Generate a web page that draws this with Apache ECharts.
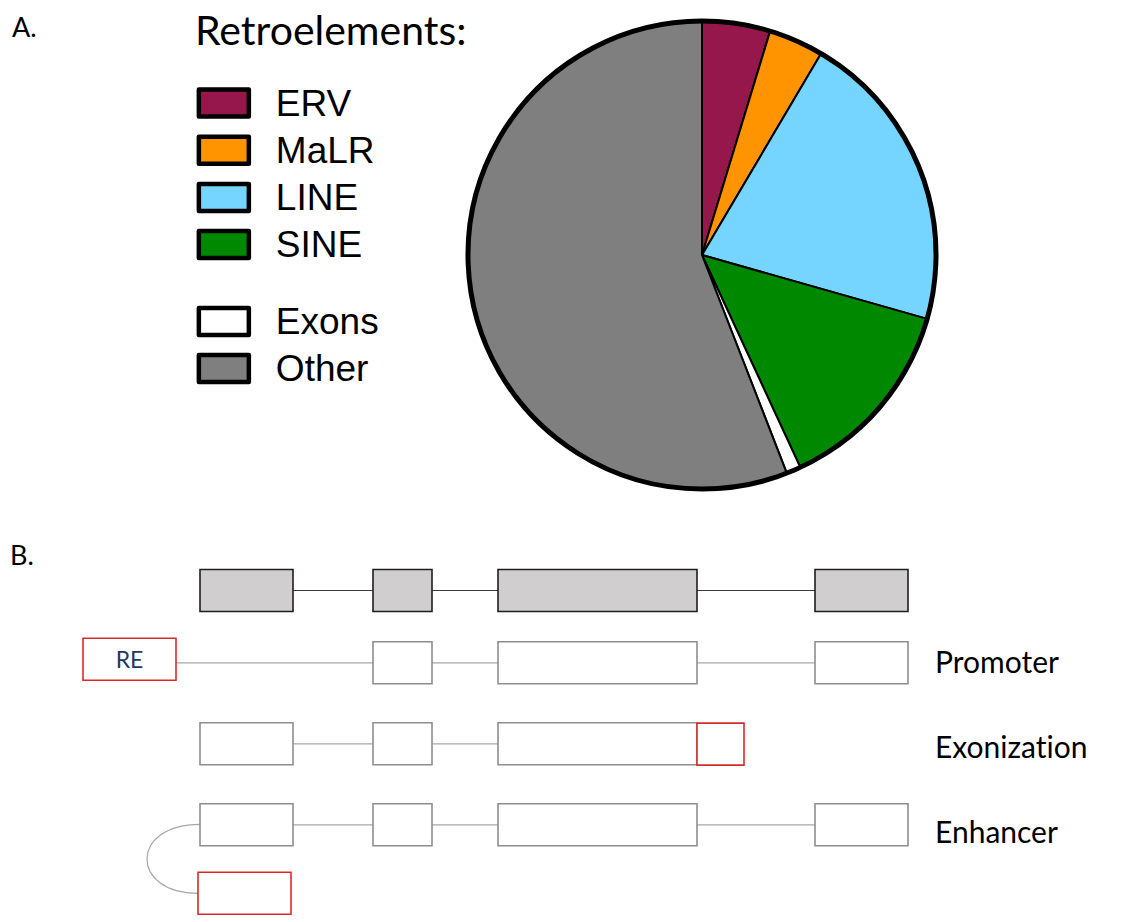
<!DOCTYPE html>
<html><head><meta charset="utf-8">
<script src="https://cdn.jsdelivr.net/npm/echarts@6/dist/echarts.min.js"></script>
<style>
html,body{margin:0;padding:0;background:#fff}
#c{width:1128px;height:922px}
#c text{font-variant-ligatures:none;font-feature-settings:"liga" 0,"clig" 0}
</style>
</head><body><div id="c"></div>
<script>
// ---- Panel A: pie data ----
const pieNames = ['ERV', 'MaLR', 'LINE', 'SINE', 'Exons', 'Other'];
const pieValues = [4.7, 3.8, 20.9, 13.7, 1.0, 55.9];
const pieColors = ['#95174c', '#ff9400', '#76d5ff', '#008800', '#ffffff', '#7f7f7f'];

// ---- Panel B: gene model data (schematic positions / track units) ----
const trackNames = ['Gene', 'Promoter', 'Exonization', 'Enhancer'];
const trackY = [30.5, 102.8, 183.8, 264.8];
const exonSpans = [[0, 93], [173, 232], [298, 497], [615, 708]];
const trackExons = [[0, 1, 2, 3], [1, 2, 3], [0, 1, 2], [0, 1, 2, 3]];
const reSpans = [[-117, -24], [497, 544], [-2, 91]];
const reTrack = ['Promoter', 'Exonization', 'Enhancer'];
const reY = [99.2, 184.1, 333.3];
const reText = ['RE', '', ''];
const rowLabels = ['Promoter', 'Exonization', 'Enhancer'];
const labelY = [101.3, 186.3, 271.3];
const labelX = 735;
const boxHeight = 42;
const loopBulge = -53;

// build derived data
const geneBoxes = trackExons[0].map(i => [exonSpans[i][0], exonSpans[i][1], trackY[0]]);
const whiteBoxes = [];
for (let t = 1; t < trackNames.length; t++) {
  trackExons[t].forEach(i => whiteBoxes.push([exonSpans[i][0], exonSpans[i][1], trackY[t]]));
}
const reBoxes = reSpans.map((s, i) => [s[0], s[1], reY[i], reText[i]]);

function intronsFor(t) {
  const spans = trackExons[t].map(i => exonSpans[i].slice());
  reTrack.forEach((name, k) => {
    if (name === trackNames[t] && Math.abs(reY[k] - trackY[t]) < 10) spans.push(reSpans[k].slice());
  });
  spans.sort((a, b) => a[0] - b[0]);
  const out = [];
  for (let i = 0; i < spans.length - 1; i++) {
    if (spans[i + 1][0] - spans[i][1] > 1) out.push([spans[i][1], spans[i + 1][0], trackY[t]]);
  }
  return out;
}
const geneIntrons = intronsFor(0);
const otherIntrons = [].concat(intronsFor(1), intronsFor(2), intronsFor(3));
const enhTrack = trackNames.indexOf('Enhancer');
const enhRe = reTrack.indexOf('Enhancer');
const loopData = [[exonSpans[trackExons[enhTrack][0]][0], trackY[enhTrack] - 0.5, reSpans[enhRe][0], reY[enhRe], loopBulge]];
const labelData = rowLabels.map((n, i) => [labelX, labelY[i], n]);

function boxRender(style, textStyle) {
  return function (params, api) {
    const x0 = api.value(0), x1 = api.value(1), yc = api.value(2);
    const p0 = api.coord([x0, yc]);
    const p1 = api.coord([x1, yc]);
    const h = api.size([0, boxHeight])[1];
    const children = [{
      type: 'rect',
      shape: { x: p0[0], y: p0[1] - h / 2, width: p1[0] - p0[0], height: h },
      style: style
    }];
    const txt = textStyle ? api.value(3) : '';
    if (txt) {
      children.push({
        type: 'text',
        style: Object.assign({ text: txt, x: (p0[0] + p1[0]) / 2, y: p0[1], align: 'center', verticalAlign: 'middle' }, textStyle)
      });
    }
    return { type: 'group', children: children };
  };
}
function lineRender(style) {
  return function (params, api) {
    const p0 = api.coord([api.value(0), api.value(2)]);
    const p1 = api.coord([api.value(1), api.value(2)]);
    return { type: 'line', shape: { x1: p0[0], y1: p0[1], x2: p1[0], y2: p1[1] }, style: style };
  };
}

const chart = echarts.init(document.getElementById('c'), null, { renderer: 'svg' });
const titleFont = { fontFamily: 'Lato', fontWeight: 'normal', color: '#000' };
const legendText = { fontFamily: 'Liberation Sans', fontSize: 37, color: '#000', padding: [0, 0, 0, 22] };
chart.setOption({
  animation: false,
  backgroundColor: '#fff',
  title: [
    { text: 'A.', left: 12, top: 12.7, padding: 0, textStyle: Object.assign({ fontSize: 27 }, titleFont) },
    { text: 'B.', left: 10, top: 540.7, padding: 0, textStyle: Object.assign({ fontSize: 27 }, titleFont) },
    { text: 'Retroelements:', left: 195, top: 8.5, padding: 0, textStyle: Object.assign({ fontSize: 41 }, titleFont) }
  ],
  legend: [
    {
      data: pieNames.slice(0, 4), orient: 'vertical', left: 196.6, top: 84.5, padding: 0,
      itemWidth: 50, itemHeight: 27, itemGap: 10.2, selectedMode: false, icon: 'rect',
      itemStyle: { borderColor: '#000', borderWidth: 4.5 },
      textStyle: legendText
    },
    {
      data: pieNames.slice(4), orient: 'vertical', left: 196.6, top: 303, padding: 0,
      itemWidth: 50, itemHeight: 27, itemGap: 9.9, selectedMode: false, icon: 'rect',
      itemStyle: { borderColor: '#000', borderWidth: 4.5 },
      textStyle: legendText
    }
  ],
  grid: { left: 0, right: 0, top: 560, height: 360 },
  xAxis: { type: 'value', min: -200, max: 928, show: false },
  yAxis: { type: 'value', inverse: true, min: 0, max: 360, show: false },
  series: [
    {
      type: 'pie', name: 'Retroelements', center: [702, 255], radius: 234, startAngle: 90, clockwise: true,
      data: pieNames.map((n, i) => ({ name: n, value: pieValues[i], itemStyle: { color: pieColors[i] } })),
      itemStyle: { borderColor: '#000', borderWidth: 2 },
      label: { show: false }, labelLine: { show: false }, emphasis: { disabled: true }, silent: true
    },
    {
      type: 'pie', name: 'outline', center: [702, 255], radius: 234,
      data: [{ name: 'outline', value: 1 }],
      itemStyle: { color: 'rgba(0,0,0,0)', borderColor: '#000', borderWidth: 5 },
      label: { show: false }, labelLine: { show: false }, emphasis: { disabled: true }, silent: true, z: 5
    },
    {
      type: 'custom', name: 'geneIntrons', data: geneIntrons, silent: true, z: 1,
      renderItem: lineRender({ stroke: '#3a3a3a', lineWidth: 1.2 })
    },
    {
      type: 'custom', name: 'introns', data: otherIntrons, silent: true, z: 1,
      renderItem: lineRender({ stroke: '#a8a8a8', lineWidth: 1.2 })
    },
    {
      type: 'custom', name: 'loop', data: loopData, silent: true, z: 1,
      renderItem: function (params, api) {
        const x0 = api.value(0), y0 = api.value(1), x1 = api.value(2), y1 = api.value(3), b = api.value(4);
        const c = (b - 0.125 * (x0 + x1)) / 0.75;
        const p0 = api.coord([x0, y0]), p1 = api.coord([x1, y1]);
        const q0 = api.coord([c, y0]), q1 = api.coord([c, y1]);
        return {
          type: 'bezierCurve',
          shape: { x1: p0[0], y1: p0[1], x2: p1[0], y2: p1[1], cpx1: q0[0], cpy1: q0[1], cpx2: q1[0], cpy2: q1[1] },
          style: { stroke: '#a8a8a8', lineWidth: 1.2, fill: null }
        };
      }
    },
    {
      type: 'custom', name: 'geneExons', data: geneBoxes, silent: true, z: 2,
      renderItem: boxRender({ fill: '#d0cece', stroke: '#1e1e1e', lineWidth: 1.6 })
    },
    {
      type: 'custom', name: 'exons', data: whiteBoxes, silent: true, z: 2,
      renderItem: boxRender({ fill: '#ffffff', stroke: '#8e8e8e', lineWidth: 1.6 })
    },
    {
      type: 'custom', name: 'RE', data: reBoxes, silent: true, z: 3,
      dimensions: ['start', 'end', 'y', { name: 'text', type: 'ordinal' }],
      renderItem: boxRender({ fill: '#ffffff', stroke: '#d72b2b', lineWidth: 1.6 },
        { fontFamily: 'Lato', fontSize: 23, fill: '#1f3864' })
    },
    {
      type: 'custom', name: 'labels', data: labelData, silent: true, z: 3,
      dimensions: ['x', 'y', { name: 'text', type: 'ordinal' }],
      renderItem: function (params, api) {
        const p = api.coord([api.value(0), api.value(1)]);
        return {
          type: 'text',
          style: { text: labelData[params.dataIndex][2], x: p[0], y: p[1], align: 'left', verticalAlign: 'middle',
            fontFamily: 'Lato', fontSize: 30, fill: '#000' }
        };
      }
    }
  ]
});
</script>
</body></html>
